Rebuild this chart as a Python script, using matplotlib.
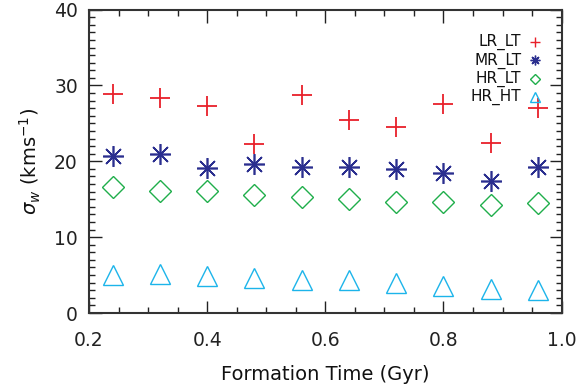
import matplotlib
matplotlib.use('Agg')
import matplotlib.pyplot as plt
from matplotlib.ticker import MultipleLocator

# formation time bins (Gyr)
t_form = [0.24, 0.32, 0.40, 0.48, 0.56, 0.64, 0.72, 0.80, 0.88, 0.96]

# vertical velocity dispersion (km/s)
lr_lt = [28.9, 28.3, 27.3, 22.3, 28.8, 25.4, 24.5, 27.5, 22.4, 27.0]
mr_lt = [20.7, 21.0, 19.1, 19.7, 19.2, 19.2, 19.0, 18.5, 17.4, 19.25]
hr_lt = [16.6, 16.1, 16.1, 15.6, 15.3, 15.0, 14.7, 14.7, 14.2, 14.5]
hr_ht = [5.0, 5.1, 4.9, 4.6, 4.4, 4.4, 3.9, 3.6, 3.1, 3.0]

labels = ['LR_LT', 'MR_LT', 'HR_LT', 'HR_HT']

fig = plt.figure(figsize=(5.8, 3.85), dpi=100)
ax = fig.add_axes([0.1534, 0.187, 0.815, 0.788])

ax.plot(t_form, lr_lt, ls='none', marker='+', ms=15, mew=1.3, color='#e8202a')
ax.plot(t_form, mr_lt, ls='none', marker=(8, 2, 0), ms=15, mew=1.2, color='#2b2f8f')
ax.plot(t_form, hr_lt, ls='none', marker='D', ms=11, mew=1.0, mfc='none', color='#1fae4b')
ax.plot(t_form, hr_ht, ls='none', marker='^', ms=14, mew=1.0, mfc='none', color='#1cb4ea')

# legend drawn as text + small markers, IDL style
leg_colors = ['#e8202a', '#2b2f8f', '#1fae4b', '#1cb4ea']
leg_markers = ['+', (8, 2, 0), 'D', '^']
leg_sizes = [7, 7, 5, 7]
for i, lab in enumerate(labels):
    y = 0.893 - i * 0.0605
    ax.text(0.915, y, lab, transform=ax.transAxes, ha='right', va='center',
            fontsize=11, color='#111111')
    ax.plot([0.943], [y], transform=ax.transAxes, ls='none', marker=leg_markers[i],
            ms=leg_sizes[i], mew=1.0, mfc='none', color=leg_colors[i], clip_on=False)

ax.set_xlim(0.2, 1.0)
ax.set_ylim(0, 40)
ax.xaxis.set_major_locator(MultipleLocator(0.2))
ax.xaxis.set_minor_locator(MultipleLocator(0.05))
ax.yaxis.set_major_locator(MultipleLocator(10))
ax.yaxis.set_minor_locator(MultipleLocator(1))
ax.xaxis.set_major_formatter(plt.FuncFormatter(lambda v, p: f'{v:.1f}'))
ax.yaxis.set_major_formatter(plt.FuncFormatter(lambda v, p: f'{v:.0f}'))

ax.tick_params(which='both', direction='in', top=True, right=True,
               labelsize=13.5, colors='#222222')
ax.tick_params(axis='x', pad=13)
ax.tick_params(axis='y', pad=8)
ax.tick_params(which='major', length=9, width=1.0)
ax.tick_params(which='minor', length=4.5, width=1.0)
for s in ax.spines.values():
    s.set_linewidth(1.5)
    s.set_color('#333333')

ax.set_xlabel('Formation Time (Gyr)', fontsize=14, color='#111111', labelpad=11)
ax.set_ylabel(r'$\sigma_w$ (kms$^{-1}$)', fontsize=14, color='#111111', labelpad=8)

fig.savefig('out.png', dpi=100)
